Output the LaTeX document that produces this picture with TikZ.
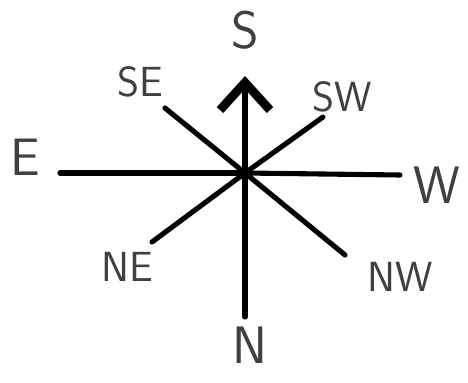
\documentclass[tikz,border=0pt]{standalone}
\usetikzlibrary{arrows.meta}
\tikzset{
  ray/.style={line width=2.9pt, line cap=round},
  dirlabel/.style={font=\sffamily\fontsize{24}{24}\selectfont, text=black!75},
  biglabel/.style={font=\sffamily\fontsize{30}{30}\selectfont, text=black!75}
}
\begin{document}
\begin{tikzpicture}[x=0.02cm, y=-0.02cm]
  \useasboundingbox (0,0) rectangle (468,383);
  % centre and ray ends
  \coordinate (c) at (245,173);
  \coordinate (s) at (245,76);
  \coordinate (n) at (245,317);
  \coordinate (e) at (60,173);
  \coordinate (w) at (400,175);
  \coordinate (se) at (165,108);
  \coordinate (sw) at (323,117);
  \coordinate (ne) at (152,242);
  \coordinate (nw) at (345,255);
  % rays
  \draw[ray, -{Straight Barb[length=5.5mm, width=10mm, line width=5pt]}] (c) -- (s);
  \foreach \d in {n,e,w,se,sw,ne,nw}
    \draw[ray] (c) -- (\d);
  \fill (c) circle (6);
  % labels
  \node[biglabel] (ls) at (245,30) {S};
  \node[biglabel] (ln) at (250,345) {N};
  \node[biglabel] (le) at (25,157) {E};
  \node[biglabel] (lw) at (437,185) {W};
  \node[dirlabel] (lse) at (140,82) {SE};
  \node[dirlabel] (lsw) at (342,97) {SW};
  \node[dirlabel] (lne) at (127,267) {NE};
  \node[dirlabel] (lnw) at (400,277) {NW};
\end{tikzpicture}
\end{document}
